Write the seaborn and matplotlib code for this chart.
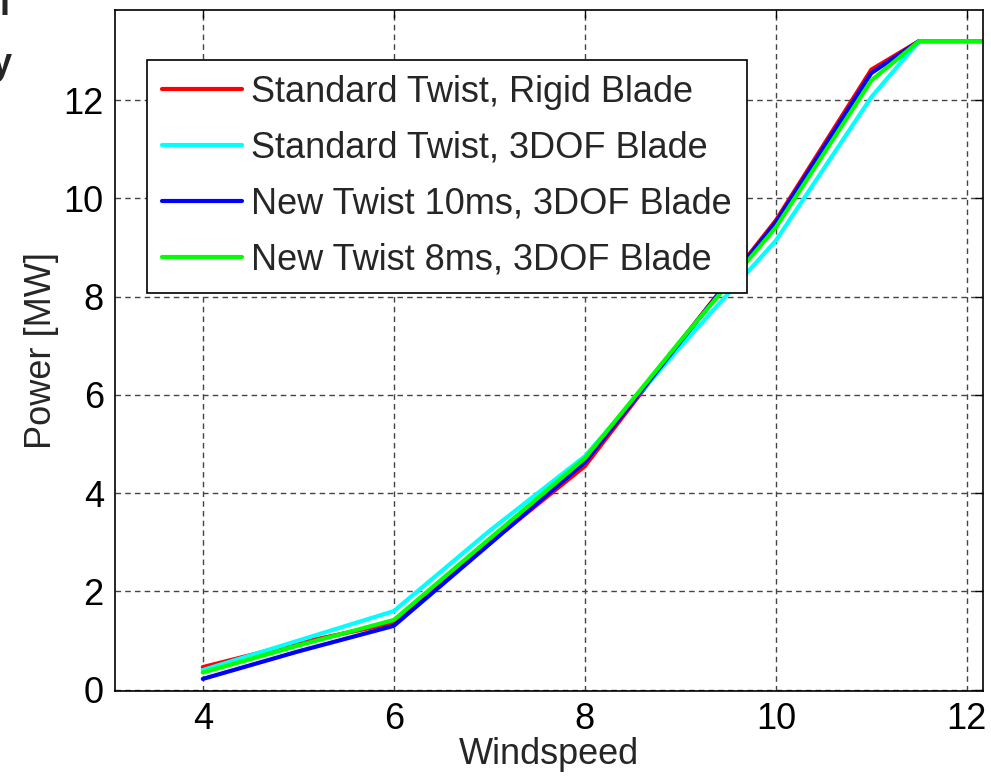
import numpy as np
import pandas as pd
import matplotlib
matplotlib.use("Agg")
import matplotlib.pyplot as plt
import seaborn as sns

# wind speeds and power curves [MW]
windspeed = [4, 5, 6, 7, 8, 9, 10, 11, 11.5, 12, 13]
rigid_std = [0.46, 0.95, 1.36, 2.98, 4.55, 7.08, 9.55, 12.62, 13.2, 13.2, 13.2]
flex_std = [0.40, 1.00, 1.60, 3.23, 4.75, 6.98, 9.14, 12.06, 13.2, 13.2, 13.2]
flex_new10 = [0.22, 0.78, 1.30, 2.96, 4.63, 7.08, 9.51, 12.55, 13.2, 13.2, 13.2]
flex_new8 = [0.35, 0.90, 1.42, 3.07, 4.71, 7.10, 9.41, 12.40, 13.2, 13.2, 13.2]

labels = ["Standard Twist, Rigid Blade", "Standard Twist, 3DOF Blade",
          "New Twist 10ms, 3DOF Blade", "New Twist 8ms, 3DOF Blade"]
colors = ["#ff0000", "#00ffff", "#0000ff", "#00ff00"]

df = pd.DataFrame({
    "Windspeed": windspeed * 4,
    "Power": rigid_std + flex_std + flex_new10 + flex_new8,
    "case": np.repeat(labels, len(windspeed)),
})

sns.set_style("white")
plt.rcParams["font.family"] = ["Liberation Sans", "DejaVu Sans"]

fig = plt.figure(figsize=(9.91, 7.81), dpi=100)
ax = fig.add_axes([0.116, 0.115, 0.876, 0.872])

sns.lineplot(data=df, x="Windspeed", y="Power", hue="case", hue_order=labels,
             palette=colors, linewidth=3, ax=ax, legend=False)

ax.set_xlim(3.08, 12.17)
ax.set_ylim(-0.03, 13.83)
ax.set_xticks([4, 6, 8, 10, 12])
ax.set_yticks([0, 2, 4, 6, 8, 10, 12])
ax.grid(True, color="#444444", linestyle=(0, (4, 3)), linewidth=1)
ax.tick_params(direction="in", length=6, width=1, labelsize=26, pad=8,
               top=True, right=True, colors="black")
for s in ax.spines.values():
    s.set_color("black")
    s.set_linewidth(1.2)

ax.set_xlabel("Windspeed", fontsize=26, labelpad=0)
ax.set_ylabel("Power [MW]", fontsize=26, labelpad=3)

handles = [plt.Line2D([], [], color=c, linewidth=3) for c in colors]
leg = ax.legend(handles, labels, loc="upper left", bbox_to_anchor=(0.037, 0.927),
                borderaxespad=0, fontsize=26, fancybox=False, framealpha=1,
                edgecolor="black", handlelength=2.2, handletextpad=0.25,
                labelspacing=0.58, borderpad=0.42)
leg.get_frame().set_linewidth(1.2)

# cut-off fragments of neighbouring text at the top left
fig.text(0.0, 0.981, "l", fontsize=26, fontweight="bold", va="baseline", ha="left")
fig.text(-0.008, 0.905, "y", fontsize=26, fontweight="bold", va="baseline", ha="left")

fig.savefig("out.png", dpi=100)
